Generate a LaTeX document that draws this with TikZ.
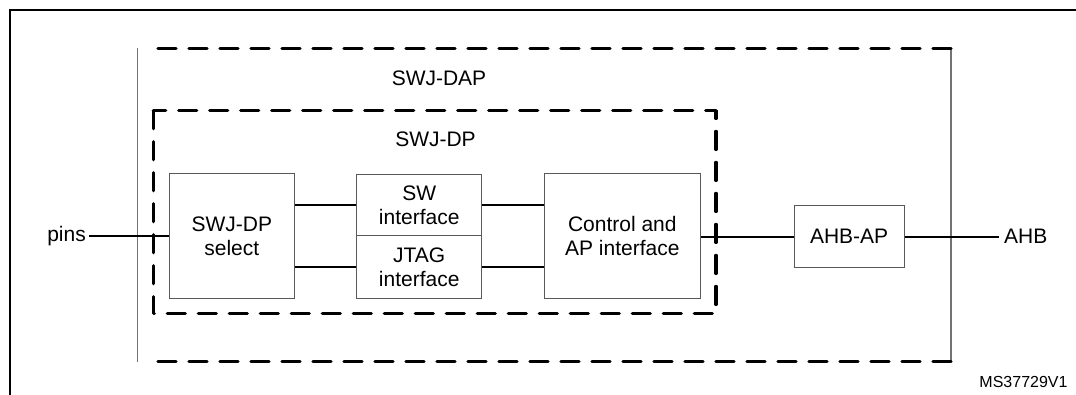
\documentclass[tikz,border=0pt]{standalone}
\usepackage{fontspec}
\setmainfont{Liberation Sans}
\begin{document}
\begin{tikzpicture}[x=1pt,y=-1pt,
  blk/.style={draw=black!65, line width=1pt, inner sep=0pt, align=center,
    font=\fontsize{21}{24}\selectfont},
  lbl/.style={inner sep=0pt, font=\fontsize{21}{24}\selectfont},
  conn/.style={draw=black, line width=2pt},
  thickdash/.style={draw=black, line width=3.3pt, dash pattern=on 18pt off 13pt, line cap=round},
  thinline/.style={draw=black!55, line width=1.2pt}]
\useasboundingbox (0,0) rectangle (1076,394);
% outer frame
\draw[line width=2.2pt] (10,400) -- (10,10.3) -- (1080,10.3);
% SWJ-DAP
\coordinate (dapTL) at (137.7,48.3);
\coordinate (dapBR) at (951,361.5);
\draw[thinline] (dapTL) -- (dapTL |- dapBR);
\draw[thinline] (dapBR |- dapTL) -- (dapBR);
\draw[thickdash] (dapBR |- dapTL) -- (149,48.3);
\draw[thickdash] (dapBR) -- (149,361.5);
\node[lbl, anchor=base] (daplbl) at (439,85) {SWJ-DAP};
% SWJ-DP
\coordinate (dpTL) at (153.3,110.7);
\coordinate (dpBR) at (716,313.7);
\draw[thickdash, line join=round] (dpTL) rectangle (dpBR);
\node[lbl, anchor=base] (dplbl) at (435.5,146) {SWJ-DP};
% blocks
\node[blk, minimum width=125pt, minimum height=124.7pt] (sel) at (231.8,236.3) {SWJ-DP\\select};
\node[blk, minimum width=125pt, minimum height=61.7pt] (sw) at (419.2,204.85) {SW\\interface};
\node[blk, minimum width=125pt, minimum height=63pt] (jtag) at (419.2,267.2) {JTAG\\interface};
\node[blk, minimum width=156.7pt, minimum height=124.7pt] (ctrl) at (622.35,236.3) {Control and\\AP interface};
\node[blk, minimum width=109.7pt, minimum height=62pt] (ahbap) at (849.15,236.5) {AHB-AP};
\node[lbl, anchor=east] (pins) at (86,236) {pins};
\node[lbl, anchor=west] (ahb) at (1004,236.5) {AHB};
\node[inner sep=0pt, anchor=base, font=\fontsize{16}{18}\selectfont] (ms) at (1023.5,387) {MS37729V1};
% connectors
\draw[conn] ([xshift=3pt]pins.east) -- (pins.east -| sel.west);
\draw[conn] (sel.east |- sw.west) -- (sw.west);
\draw[conn] (sel.east |- jtag.west) -- (jtag.west);
\draw[conn] (sw.east) -- (sw.east -| ctrl.west);
\draw[conn] (jtag.east) -- (jtag.east -| ctrl.west);
\draw[conn] (ctrl.east |- ahbap.west) -- (ahbap.west);
\draw[conn] (ahbap.east) -- ([xshift=-5pt]ahb.west);
\end{tikzpicture}
\end{document}
